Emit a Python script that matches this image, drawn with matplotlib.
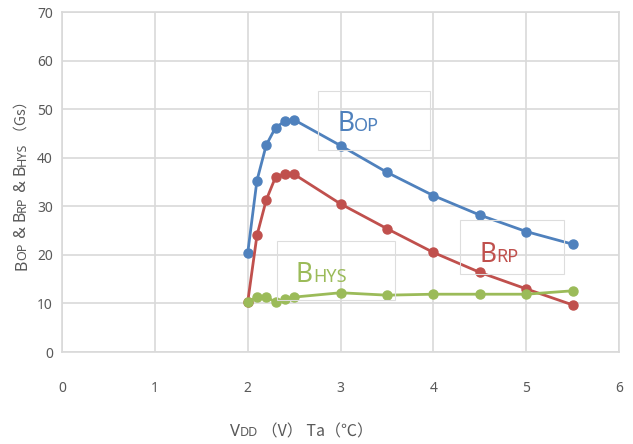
import matplotlib.pyplot as plt
from matplotlib.patches import Rectangle

plt.rcParams['font.family'] = ['Noto Sans', 'Noto Sans CJK SC', 'DejaVu Sans']
CJK = ['Noto Sans CJK SC', 'DejaVu Sans']

# VDD (V)
vdd = [2.0, 2.1, 2.2, 2.3, 2.4, 2.5, 3.0, 3.5, 4.0, 4.5, 5.0, 5.5]
b_op = [20.3, 35.3, 42.6, 46.2, 47.5, 47.8, 42.5, 37.0, 32.2, 28.2, 24.8, 22.2]
b_rp = [10.2, 24.0, 31.3, 36.0, 36.7, 36.6, 30.5, 25.4, 20.5, 16.4, 13.0, 9.7]
b_hys = [10.2, 11.4, 11.3, 10.3, 10.9, 11.3, 12.2, 11.7, 11.9, 11.9, 11.9, 12.6]

BLUE = "#4F81BD"
RED = "#C0504D"
GREEN = "#9BBB59"
GRID = "#D9D9D9"
TXT = "#595959"

fig = plt.figure(figsize=(6.33, 4.44), dpi=100)
ax = fig.add_axes([62 / 633, 1 - 352 / 444, 557 / 633, 340 / 444])

for y, c in [(b_op, BLUE), (b_rp, RED), (b_hys, GREEN)]:
    ax.plot(vdd, y, color=c, linewidth=2, marker="o", markersize=6.5,
            solid_capstyle="round", zorder=3)

ax.set_xlim(0, 6)
ax.set_ylim(0, 70)
ax.set_xticks(range(0, 7))
ax.set_yticks(range(0, 80, 10))
ax.grid(True, color=GRID, linewidth=1.2)
ax.set_axisbelow(True)
for s in ax.spines.values():
    s.set_color(GRID)
    s.set_linewidth(1.2)
ax.tick_params(length=0, colors=TXT, labelsize=10)
ax.tick_params(axis="x", pad=21)
ax.tick_params(axis="y", pad=6.5)


def chain(pieces, x, y, color, rotation=0):
    # draw text pieces one after another on a shared baseline
    last = None
    for piece in pieces:
        s, size = piece[0], piece[1]
        kw = dict(fontsize=size, color=color, ha="left", va="baseline",
                  rotation=rotation, rotation_mode="anchor")
        if len(piece) > 2:
            kw["family"] = piece[2]
        if last is None:
            last = fig.text(x, y, s, **kw)
        elif rotation == 0:
            last = ax.annotate(s, xy=(1, y), xycoords=(last, "figure fraction"),
                               annotation_clip=False, **kw)
        else:
            last = ax.annotate(s, xy=(x, 1), xycoords=("figure fraction", last),
                               annotation_clip=False, **kw)


# label boxes
for (x0, y0, x1, y1) in [(318, 91, 430, 150), (460, 220, 564, 274),
                         (277, 241, 395, 300)]:
    fig.patches.append(Rectangle((x0 / 633, 1 - y1 / 444), (x1 - x0) / 633,
                                 (y1 - y0) / 444, transform=fig.transFigure,
                                 fill=False, edgecolor="#DDDDDD",
                                 linewidth=0.8))

chain([("B", 19), ("OP", 13)], 337 / 633, 1 - 131 / 444, BLUE)
chain([("B", 19), ("RP", 13)], 479 / 633, 1 - 262 / 444, RED)
chain([("B", 19), ("HYS", 13)], 296 / 633, 1 - 282 / 444, GREEN)

chain([("B", 11.5), ("OP", 9), (" & B", 11.5), ("RP", 9), (" & B", 11.5),
       ("HYS", 9), (" （Gs）", 10.5, CJK)],
      26 / 633, 1 - 270 / 444, TXT, rotation=90)
chain([("V", 12), ("DD", 9), (" （V） Ta（℃）", 11.5, CJK)],
      230 / 633, 1 - 436 / 444, TXT)

fig.savefig("out.png", dpi=100)
